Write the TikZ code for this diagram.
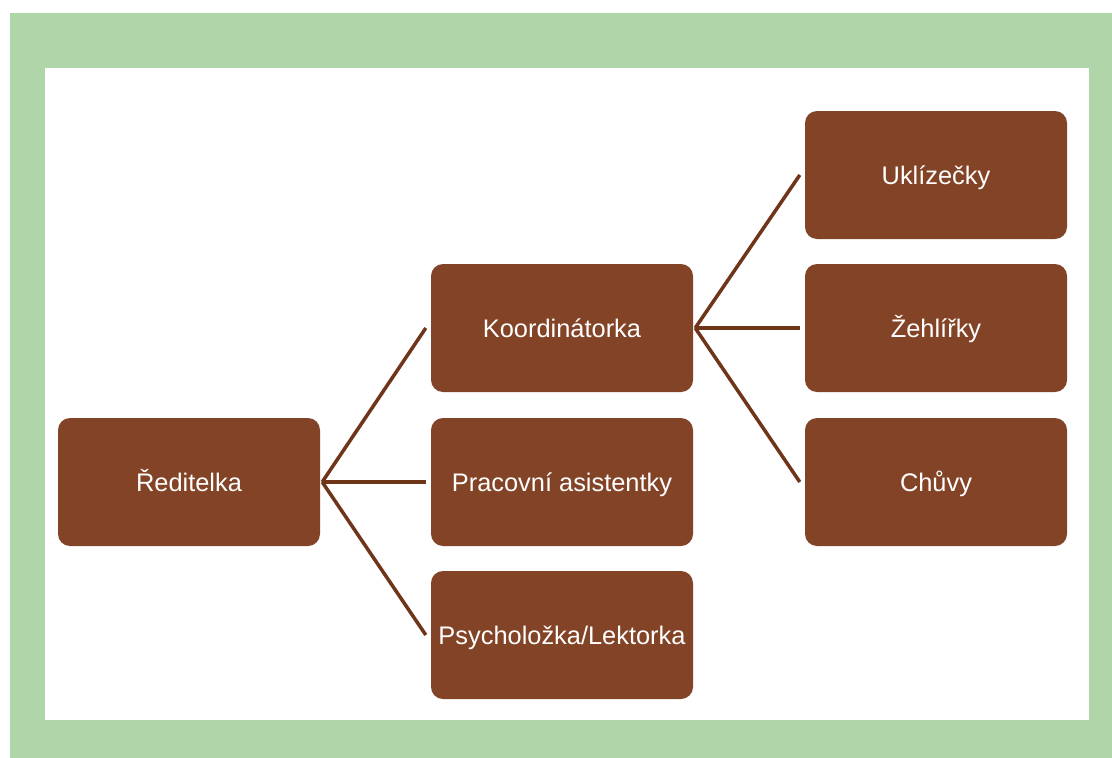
\documentclass[tikz,border=0pt]{standalone}
\usepackage{fontspec}
\setmainfont{Liberation Sans}
\definecolor{framegreen}{HTML}{B0D5A8}
\definecolor{boxbrown}{HTML}{834326}
\definecolor{linebrown}{HTML}{6E3519}
\tikzset{
  unit/.style={fill=boxbrown, rounded corners=12pt, minimum width=262pt, minimum height=128pt,
    inner sep=0pt, text height=18.5pt, text depth=0pt, text=white, font=\fontsize{25.4}{30}\selectfont},
  branch/.style={draw=linebrown, line width=3.5pt}
}
\begin{document}
\begin{tikzpicture}[x=1pt,y=-1pt]
            \useasboundingbox (0,0) rectangle (1112,758);
            \fill[white] (0,0) rectangle (1112,758);
            \fill[framegreen] (10,13) rectangle (1112,758);
            \fill[white] (45,68) rectangle (1089,720);
            \node[unit] (reditelka) at (189,482) {Ředitelka};
            \node[unit] (koord) at (562,328) {Koordinátorka};
            \node[unit] (asist) at (562,482) {Pracovní asistentky};
            \node[unit] (psych) at (562,635) {Psycholožka/Lektorka};
            \node[unit] (uklid) at (936,175) {Uklízečky};
            \node[unit] (zehl) at (936,328) {Žehlířky};
            \node[unit] (chuvy) at (936,482) {Chůvy};
            \coordinate (r0) at ([xshift=2pt]reditelka.east);
            \coordinate (k0) at ([xshift=2pt]koord.east);
            \foreach \n in {koord,asist,psych} {
                \draw[branch] (r0) -- ([xshift=-5pt]\n.west);
            }
            \foreach \n in {uklid,zehl,chuvy} {
                \draw[branch] (k0) -- ([xshift=-5pt]\n.west);
            }
        \end{tikzpicture}
\end{document}
